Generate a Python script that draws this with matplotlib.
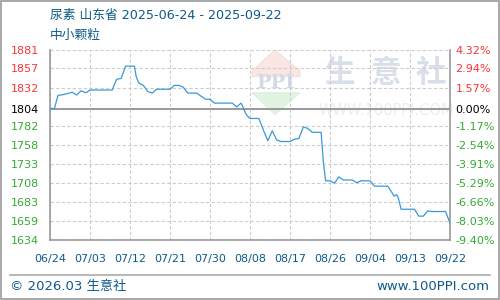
import matplotlib.pyplot as plt
import matplotlib.patches as mpatches
from matplotlib.lines import Line2D

plt.rcParams["font.family"] = ["DejaVu Sans", "Noto Sans CJK SC"]

TITLE = "尿素 山东省 2025-06-24 - 2025-09-22"
SUBTITLE = "中小颗粒"

# days since 2025-06-24 and price (yuan/ton)
day = [0, 1, 1.8, 3, 5, 6, 7, 8, 8.5, 9, 14, 14.4, 15, 16, 17, 19, 19.4, 20, 21,
       22, 23, 24, 27, 28, 29, 30, 31, 33, 34, 35, 36, 37, 41, 42, 43, 44, 44.3,
       45, 47, 48, 49, 50, 51, 52, 54, 55, 56, 57, 58, 59, 61, 61.5, 62, 63, 64,
       65, 66, 68, 69, 70, 72, 73, 76, 77, 77.4, 78, 78.4, 79, 82, 83, 84, 85,
       86, 89, 89.6, 90]
price = [1805, 1805, 1822, 1823, 1826, 1822.5, 1828, 1825.5, 1827, 1829, 1829,
         1835, 1843, 1844, 1860, 1860, 1846, 1838, 1835, 1827, 1825, 1830, 1830,
         1835, 1835, 1832.5, 1825, 1825, 1821, 1817, 1817, 1812, 1812, 1807,
         1812, 1799, 1796, 1792, 1792, 1777, 1763, 1776, 1764, 1762, 1762, 1765,
         1766, 1781, 1779, 1774, 1774, 1736, 1711, 1711, 1708, 1716, 1712, 1712,
         1708.5, 1711, 1711, 1704, 1704, 1695, 1691, 1693, 1688, 1674, 1674, 1665,
         1665, 1672, 1671, 1671, 1662, 1656]

BASE = 1804
y_ticks = [1881, 1857, 1832, 1804, 1782, 1758, 1733, 1708, 1683, 1659, 1634]
pct_labels = ["4.32%", "2.94%", "1.57%", "0.00%", "-1.17%", "-2.54%", "-3.91%",
              "-5.29%", "-6.66%", "-8.03%", "-9.40%"]
x_ticks = [0, 9, 18, 27, 36, 45, 54, 63, 72, 81, 90]
x_labels = ["06/24", "07/03", "07/12", "07/21", "07/30", "08/08", "08/17",
            "08/26", "09/04", "09/13", "09/22"]

RED = "#ff3333"
GREEN = "#33aa33"
BLUE_TXT = "#0d5a8a"
LINE = "#3a98d8"


def tick_color(v):
    if v > BASE:
        return RED
    if v < BASE:
        return GREEN
    return "black"


fig = plt.figure(figsize=(5, 3), dpi=100)
ax = fig.add_axes([0.1, 0.2, 0.8, 0.6333])

ax.set_xlim(0, 90)
ax.set_ylim(1634, 1881)

# faint site watermark behind the data
wm = dict(transform=ax.transAxes, zorder=0)
ax.add_patch(mpatches.Polygon([[0.5625, 1.0], [0.505, 0.89], [0.505, 0.86],
                               [0.625, 0.86], [0.625, 0.89]],
                              closed=True, color="#f8dcd6", alpha=0.7, **wm))
ax.add_patch(mpatches.Polygon([[0.505, 0.775], [0.625, 0.775], [0.5625, 0.66]],
                              closed=True, color="#d8eed8", alpha=0.7, **wm))
ax.text(0.5625, 0.825, "PPI", ha="center", va="center", fontsize=14,
        fontweight="bold", family="DejaVu Serif", color="#d3dae6", **wm)
for ch, xf in zip("生意社", [0.7225, 0.839, 0.952]):
    ax.text(xf, 0.88, ch, ha="center", va="center", fontsize=22,
            fontweight="bold", family=["Noto Sans CJK SC"], color="#d9dfe9", **wm)
ax.text(0.84, 0.684, "WWW.100PPI.COM", ha="center", va="center", fontsize=10.5,
        color="#eaedf2", **wm)

ax.grid(True, color="#cccccc", linestyle=(0, (3, 2)), linewidth=0.8)
ax.set_axisbelow(True)
ax.axhline(BASE, color="#999999", linewidth=1.4, zorder=2)
ax.plot(day, price, color=LINE, linewidth=0.9, zorder=3)

for s in ["left", "bottom", "right"]:
    ax.spines[s].set_color("#999999")
    ax.spines[s].set_linewidth(1.2)
ax.spines["top"].set_visible(False)

ax.set_xticks(x_ticks)
ax.set_xticklabels(x_labels, fontsize=8, color=BLUE_TXT)
ax.set_yticks(y_ticks)
ax.set_yticklabels([str(v) for v in y_ticks], fontsize=8)
for lab, v in zip(ax.get_yticklabels(), y_ticks):
    lab.set_color(tick_color(v))
ax.tick_params(length=0, pad=8)
ax.tick_params(axis="x", pad=10)

ax2 = ax.twinx()
ax2.set_ylim(ax.get_ylim())
ax2.set_yticks(y_ticks)
ax2.set_yticklabels(pct_labels, fontsize=8)
for lab, v in zip(ax2.get_yticklabels(), y_ticks):
    lab.set_color(tick_color(v))
ax2.tick_params(length=0, pad=4)
for s in ax2.spines.values():
    s.set_visible(False)

fig.text(0.1, 0.95, TITLE, fontsize=9.2, color=BLUE_TXT, va="center",
         family=["DejaVu Sans", "Noto Sans CJK SC"])
fig.text(0.1, 0.883, SUBTITLE, fontsize=9.2, color=BLUE_TXT, va="center",
         family=["Noto Sans CJK SC"])

fig.add_artist(Line2D([0.02, 0.98], [0.082, 0.082], color="#aaaaaa",
                      linewidth=1.2, transform=fig.transFigure))
fig.text(0.02, 0.045, "© 2026.03 生意社", fontsize=9.5, color=BLUE_TXT,
         va="center", family=["DejaVu Sans", "Noto Sans CJK SC"])
fig.text(0.978, 0.045, "www.100PPI.com", fontsize=9.5, color=BLUE_TXT,
         va="center", ha="right")

fig.add_artist(mpatches.Rectangle((0.001, 0.002), 0.997, 0.995, fill=False,
                                  edgecolor="#999999", linewidth=1.2,
                                  transform=fig.transFigure))

fig.savefig("out.png", dpi=100)
